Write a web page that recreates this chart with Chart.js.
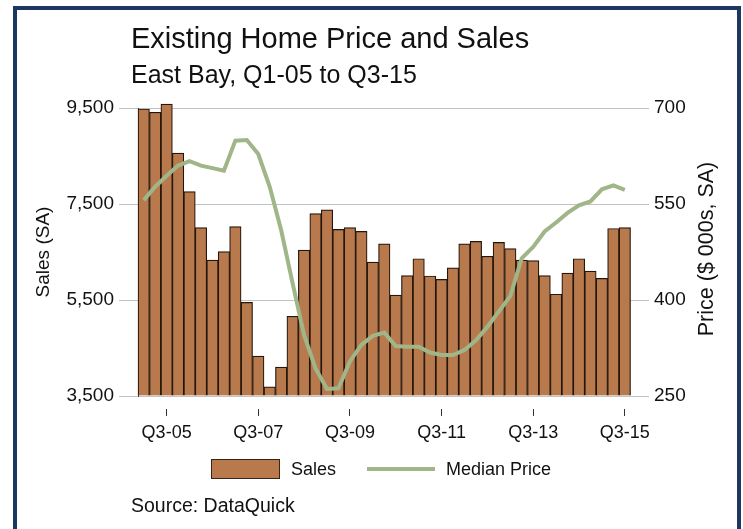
<!DOCTYPE html>
<html>
<head>
<meta charset="utf-8">
<script src="https://cdn.jsdelivr.net/npm/chart.js@4.4.1/dist/chart.umd.min.js"></script>
<style>
  html, body { margin: 0; padding: 0; background: #fff; }
  body { width: 743px; height: 529px; position: relative; overflow: hidden;
         font-family: "Liberation Sans", Arial, sans-serif; color: #111; }
  #frame { position: absolute; left: 13px; top: 6px; width: 720px; height: 600px;
           border: 4px solid #1c3760; pointer-events: none; }
  .txt { position: absolute; white-space: nowrap; line-height: 1; }
  #title { left: 131px; top: 24px; font-size: 29px; }
  #subtitle { left: 131px; top: 62px; font-size: 25px; }
  #rightTitle { left: 707px; top: 249px; font-size: 21.5px;
                transform: translate(-50%, -50%) rotate(-90deg); }
  #legBox { position: absolute; left: 211px; top: 459px; width: 67px; height: 18px;
            background: #b8794d; border: 1px solid #3a2414; }
  #legLine { position: absolute; left: 367px; top: 467px; width: 68px; height: 4px; background: #a0b588; }
  #legSales { left: 291px; top: 460px; font-size: 18px; }
  #legPrice { left: 446px; top: 460px; font-size: 18px; }
  #source { left: 131px; top: 496px; font-size: 19.5px; }
</style>
</head>
<body>
<canvas id="chart" width="743" height="529"></canvas>
<div id="frame"></div>
<div class="txt" id="title">Existing Home Price and Sales</div>
<div class="txt" id="subtitle">East Bay, Q1-05 to Q3-15</div>
<div class="txt" id="rightTitle">Price ($ 000s, SA)</div>
<div id="legBox"></div>
<div class="txt" id="legSales">Sales</div>
<div id="legLine"></div>
<div class="txt" id="legPrice">Median Price</div>
<div class="txt" id="source">Source: DataQuick</div>
<script>
// quarters Q1-05 .. Q3-15
const quarters = [
  "Q1-05","Q2-05","Q3-05","Q4-05","Q1-06","Q2-06","Q3-06","Q4-06",
  "Q1-07","Q2-07","Q3-07","Q4-07","Q1-08","Q2-08","Q3-08","Q4-08",
  "Q1-09","Q2-09","Q3-09","Q4-09","Q1-10","Q2-10","Q3-10","Q4-10",
  "Q1-11","Q2-11","Q3-11","Q4-11","Q1-12","Q2-12","Q3-12","Q4-12",
  "Q1-13","Q2-13","Q3-13","Q4-13","Q1-14","Q2-14","Q3-14","Q4-14",
  "Q1-15","Q2-15","Q3-15"
];
const tickQuarters = ["Q3-05","Q3-07","Q3-09","Q3-11","Q3-13","Q3-15"];

// sales (SA), left axis
const sales = [
  9480, 9410, 9580, 8560, 7760, 7010, 6330, 6510, 7030, 5450, 4330,
  3690, 4100, 5160, 6540, 7300, 7380, 6970, 7010, 6930, 6290, 6670,
  5600, 6010, 6360, 6000, 5930, 6170, 6670, 6720, 6410, 6700, 6570,
  6330, 6320, 6010, 5620, 6060, 6360, 6100, 5950, 6990, 7010
];

// median price ($000s, SA), right axis
const price = [
  556, 577, 594, 610, 617, 610, 606, 602, 649, 650, 628,
  577, 509, 426, 345, 293, 261, 262, 304, 330, 344, 349,
  328, 327, 327, 318, 314, 314, 322, 337, 358, 382, 406,
  465, 483, 507, 521, 536, 548, 554, 573, 579, 572
];

const salesTicks = [3500, 5500, 7500, 9500];
const priceTicks = [250, 400, 550, 700];

const tickFont = { family: "Liberation Sans", size: 19 };

new Chart(document.getElementById("chart"), {
  type: "bar",
  data: {
    datasets: [{
      type: "line",
      label: "Median Price",
      data: price.map((v, i) => ({ x: i, y: v })),
      yAxisID: "y2",
      borderColor: "#a0b588",
      borderWidth: 4,
      pointRadius: 0,
      tension: 0,
      order: 0,
      clip: false
    }, {
      label: "Sales",
      data: sales.map((v, i) => ({ x: i, y: v })),
      yAxisID: "y",
      base: salesTicks[0],
      backgroundColor: "#b8794d",
      borderColor: "#24160b",
      borderWidth: 1.2,
      barPercentage: 1,
      categoryPercentage: 1,
      order: 1,
      clip: false
    }]
  },
  options: {
    responsive: false,
    animation: false,
    layout: { padding: { top: 108, left: 0, right: 0, bottom: 0 } },
    plugins: { legend: { display: false }, tooltip: { enabled: false } },
    scales: {
      x: {
        type: "linear",
        min: -0.5,
        max: quarters.length + 0.5,
        offset: false,
        afterFit: s => { s.height = 133; },
        afterBuildTicks: s => {
          s.ticks = tickQuarters.map(q => ({ value: quarters.indexOf(q) }));
        },
        border: { display: false },
        grid: {
          offset: false,
          drawOnChartArea: false,
          tickLength: 20,
          tickColor: "#333",
          tickBorderDash: [0, 13, 7]
        },
        ticks: {
          color: "#111",
          font: { family: "Liberation Sans", size: 18 },
          padding: 6,
          maxRotation: 0,
          autoSkip: false,
          callback: v => quarters[v]
        }
      },
      y: {
        position: "left",
        min: salesTicks[0],
        max: salesTicks[salesTicks.length - 1],
        afterFit: s => { s.width = 138; },
        afterBuildTicks: s => { s.ticks = salesTicks.map(v => ({ value: v })); },
        border: { display: true, color: "#444", width: 1 },
        grid: { color: "#c2c2c2", tickColor: "#c2c2c2", tickLength: 19 },
        ticks: {
          color: "#111",
          font: tickFont,
          padding: 5,
          callback: v => v.toLocaleString("en-US")
        },
        title: {
          display: true,
          text: "Sales (SA)",
          color: "#111",
          font: { family: "Liberation Sans", size: 19 },
          padding: { top: 32, bottom: 0 }
        }
      },
      y2: {
        position: "right",
        min: priceTicks[0],
        max: priceTicks[priceTicks.length - 1],
        afterFit: s => { s.width = 101; },
        afterBuildTicks: s => { s.ticks = priceTicks.map(v => ({ value: v })); },
        border: { display: false },
        grid: { drawOnChartArea: false, color: "#c2c2c2", tickColor: "#c2c2c2", tickLength: 7 },
        ticks: { color: "#111", font: tickFont, padding: 5 }
      }
    }
  }
});
</script>
</body>
</html>
